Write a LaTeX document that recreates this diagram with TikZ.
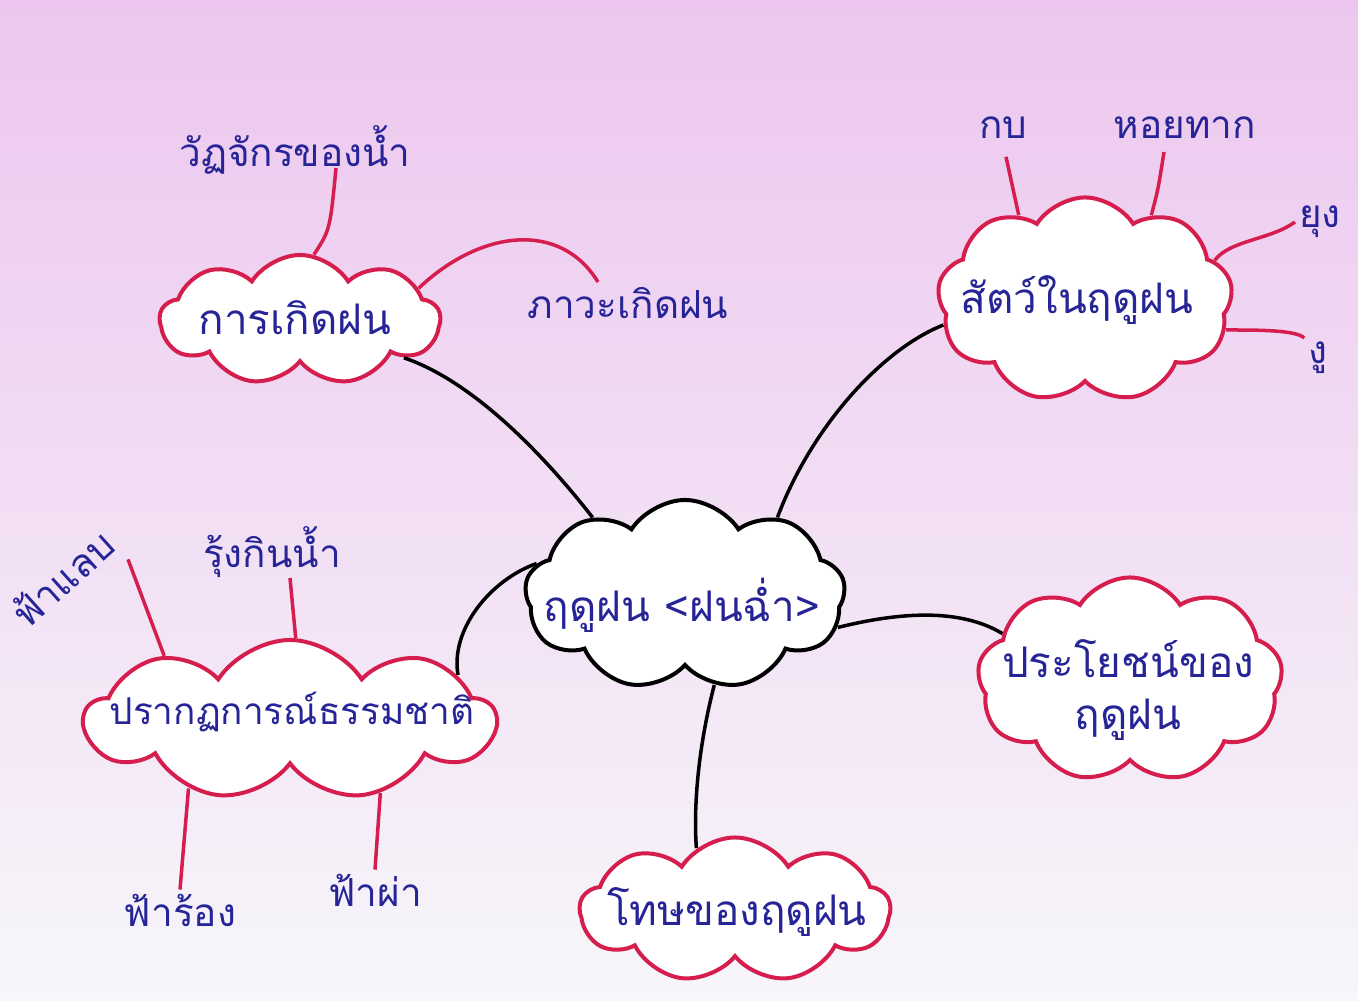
\documentclass[tikz,border=0pt]{standalone}
\usepackage{fontspec}
\newfontfamily\thaifont[Script=Thai]{Loma}
\usetikzlibrary{shapes.symbols}
\definecolor{penred}{RGB}{214,30,78}
\definecolor{penblue}{RGB}{38,36,150}
\definecolor{paperpink}{RGB}{236,198,238}
\definecolor{papermid}{RGB}{241,226,246}
\definecolor{paperwhite}{RGB}{247,246,250}

\begin{document}
\begin{tikzpicture}[x=0.01cm,y=-0.01cm,
		puff/.style={cloud, cloud puffs=9, cloud puff arc=115, cloud ignores aspect, draw=penred, line width=0.4mm, fill=white, inner sep=0pt},
		mainpuff/.style={puff, draw=black},
		word/.style={font=\thaifont\fontsize{12}{15}\selectfont, text=penblue, inner sep=1pt},
		leaf/.style={word, font=\thaifont\fontsize{11}{13}\selectfont},
		redline/.style={penred, line width=0.35mm},
		blackline/.style={black, line width=0.35mm}]
	\useasboundingbox (0,0) rectangle (1358,1000);
	\shade[top color=paperpink, middle color=papermid, bottom color=paperwhite] (0,0) rectangle (1358,1000);
	
	% clouds
	\node[mainpuff, minimum width=3.2cm, minimum height=1.9cm] (rainy) at (685,595) {};
	\node[puff, minimum width=2.8cm, minimum height=1.3cm] (rainform) at (300,320) {};
	\node[puff, minimum width=2.95cm, minimum height=2.05cm] (animals) at (1085,300) {};
	\node[puff, minimum width=4.1cm, minimum height=1.6cm] (nature) at (290,720) {};
	\node[puff, minimum width=3.05cm, minimum height=2.05cm] (benefit) at (1130,680) {};
	\node[puff, minimum width=3.1cm, minimum height=1.45cm] (harm) at (735,910) {};
	
	% texts in clouds
	\node[word] (rainytext) at (682,605) {ฤดูฝน <ฝนฉ่ำ>};
	\node[word] (rainformtext) at (295,318) {การเกิดฝน};
	\node[word] (animalstext) at (1077,300) {สัตว์ในฤดูฝน};
	\node[word, font=\thaifont\fontsize{10.5}{13}\selectfont] (naturetext) at (292,712) {ปรากฏการณ์ธรรมชาติ};
	\node[word, align=center] (benefittext) at (1128,690) {ประโยชน์ของ\\ฤดูฝน};
	\node[word] (harmtext) at (737,912) {โทษของฤดูฝน};
	
	% leaves
	\node[leaf] (cycle) at (295,150) {วัฏจักรของน้ำ};
	\node[leaf] (cause) at (628,303) {ภาวะเกิดฝน};
	\node[leaf] (frog) at (1003,128) {กบ};
	\node[leaf] (snail) at (1185,128) {หอยทาก};
	\node[leaf] (mosquito) at (1320,222) {ยุง};
	\node[leaf] (snake) at (1318,358) {งู};
	\node[leaf, rotate=42] (lightning) at (62,578) {ฟ้าแลบ};
	\node[leaf] (rainbow) at (272,552) {รุ้งกินน้ำ};
	\node[leaf] (thunder) at (180,910) {ฟ้าร้อง};
	\node[leaf] (strike) at (375,890) {ฟ้าผ่า};
	\coordinate (cycleend) at (336,168);
	\coordinate (causeend) at (598,282);
	\coordinate (snailend) at (1164,152);
	\coordinate (rainbowend) at (290,578);
	
	% black connectors
	\draw[blackline] (rainy.140) .. controls (540,450) and (470,380) .. (rainform.-20);
	\draw[blackline] (rainy.40) .. controls (810,430) and (880,350) .. (animals.190);
	\draw[blackline] (rainy.168) .. controls (490,580) and (450,630) .. (nature.15);
	\draw[blackline] (rainy.-12) .. controls (900,612) and (960,608) .. (benefit.160);
	\draw[blackline] (rainy.-72) .. controls (700,740) and (693,800) .. (harm.122);
	
	% red connectors
	\draw[redline] (rainform.78) .. controls (330,230) .. (cycleend);
	\draw[redline] (rainform.15) .. controls (480,230) and (560,220) .. (causeend);
	\draw[redline, shorten <=4pt] (frog.south) -- (animals.128);
	\draw[redline] (snailend) .. controls (1158,190) .. (animals.52);
	\draw[redline] (animals.17) .. controls (1230,240) and (1270,240) .. (mosquito.west);
	\draw[redline] (animals.-12) .. controls (1260,330) and (1295,330) .. (snake.north west);
	\draw[redline, shorten <=3pt] (lightning.south east) -- (nature.153);
	\draw[redline] (rainbowend) -- (nature.86);
	\draw[redline] (nature.-146) -- (thunder.north);
	\draw[redline] (nature.-39) -- (strike.north);
\end{tikzpicture}
\end{document}
